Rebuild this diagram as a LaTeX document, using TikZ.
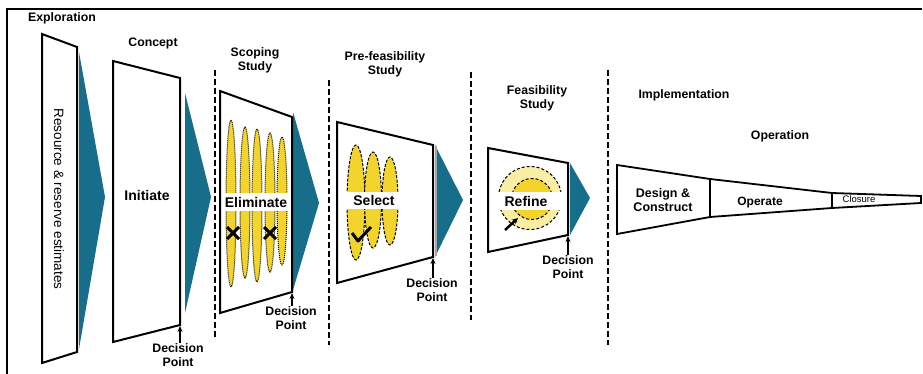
\documentclass[tikz,border=0pt]{standalone}
\usepackage{fontspec}
\setmainfont{Liberation Sans}
\usetikzlibrary{arrows.meta}
\definecolor{tealw}{RGB}{22,110,138}
\definecolor{yel}{RGB}{242,212,45}
\definecolor{paleyel}{RGB}{250,238,165}
\begin{document}
\begin{tikzpicture}[x=1pt,y=-1pt,
  stagebox/.style={draw=black,line width=2pt,line join=miter},
  wedge/.style={fill=tealw},
  lab/.style={font=\bfseries\fontsize{12.3}{14}\selectfont, align=center, inner sep=0},
  mainlab/.style={font=\bfseries\fontsize{14}{15}\selectfont, inner sep=0, align=center},
  sepline/.style={line width=1.3pt, dash pattern=on 6pt off 3pt},
  decarrow/.style={-{Stealth[length=6pt,width=5pt]}, line width=1.2pt},
  dotell/.style={fill=yel, draw=black, line width=1pt, densely dotted},
  dashell/.style={fill=yel, draw=black, line width=1pt, dash pattern=on 3pt off 1.5pt},
  crossmark/.style={line width=3pt},
  band/.style={fill=white}]
\useasboundingbox (0,0) rectangle (923,374);
\fill[white] (0,0) rectangle (923,374);
% frame
\draw[line width=2pt] (7,374) -- (7,9) -- (922,9);

% separators
\coordinate (s1a) at (215,70);  \coordinate (s1b) at (215,338);
\coordinate (s2a) at (329,80);  \coordinate (s2b) at (329,345);
\coordinate (s3a) at (471,72);  \coordinate (s3b) at (471,320);
\coordinate (s4a) at (608,70);  \coordinate (s4b) at (608,345);
\draw[sepline] (s1a) -- (s1b);
\draw[sepline] (s2a) -- (s2b);
\draw[sepline] (s3a) -- (s3b);
\draw[sepline] (s4a) -- (s4b);

% ---------- Exploration
\fill[wedge] (79,52) -- (105,197) -- (79,349) -- cycle;
\draw[stagebox,fill=white] (42,34) -- (77,47) -- (77,352) -- (42,363) -- cycle;
\node[lab] (lexp) at (62,18) {Exploration};
\node[rotate=-90, font=\fontsize{13.5}{15}\selectfont, inner sep=0] (tres) at (59,199) {Resource \& reserve estimates};

% ---------- Concept
\fill[wedge] (185,93) -- (211,197) -- (185,313) -- cycle;
\draw[stagebox,fill=white] (113,61) -- (180,78) -- (180,325) -- (113,342) -- cycle;
\node[lab] (lcon) at (153,43) {Concept};
\node[mainlab] (tini) at (147,195) {Initiate};
\coordinate (dp1) at (180,326);
\node[lab, anchor=north] (dl1) at (178,343) {Decision\\Point};
\draw[decarrow] (dl1.north -| dp1) -- (dp1);

% ---------- Scoping study
\fill[wedge] (293,112) -- (319,203) -- (293,290) -- cycle;
\fill[white] (220,91) -- (292,117) -- (292,292) -- (220,313) -- cycle;
\draw[dotell] (231,203.5) ellipse [x radius=5, y radius=83.5];
\draw[dotell] (245,202.5) ellipse [x radius=5, y radius=75.5];
\draw[dotell] (257,205.5) ellipse [x radius=5, y radius=76.5];
\draw[dotell] (270,202.5) ellipse [x radius=5, y radius=69.5];
\draw[dotell] (282,201) ellipse [x radius=5, y radius=64];
\fill[band] (221,193) rectangle (291,211);
\node[mainlab] (telim) at (256,202) {Eliminate};
\draw[crossmark] (227,227) -- (239,239) (227,239) -- (239,227);
\draw[crossmark] (264,227) -- (276,239) (264,239) -- (276,227);
\draw[stagebox] (220,91) -- (292,117) -- (292,292) -- (220,313) -- cycle;
\node[lab] (lsco) at (255,60) {Scoping\\Study};
\coordinate (dp2) at (292,293);
\node[lab, anchor=north] (dl2) at (291,306) {Decision\\Point};
\draw[decarrow] (dl2.north -| dp2) -- (dp2);

% ---------- Pre-feasibility study
\fill[wedge] (435,145) -- (463,200) -- (435,257) -- cycle;
\fill[white] (337,122) -- (433,145) -- (433,257) -- (337,283) -- cycle;
\draw[dashell] (356,202.5) ellipse [x radius=9, y radius=57.5];
\draw[dashell] (373,200) ellipse [x radius=8.5, y radius=48];
\draw[dashell] (390,201) ellipse [x radius=8, y radius=44];
\fill[band] (338,192) rectangle (432,209);
\node[mainlab] (tsel) at (374,200.5) {Select};
\draw[line width=3pt, line join=round] (352,233) -- (358,241) -- (371,227);
\draw[stagebox] (337,122) -- (433,145) -- (433,257) -- (337,283) -- cycle;
\draw[gray!70, line width=2pt] (435.5,146) -- (435.5,256);
\node[lab] (lpre) at (385,64) {Pre-feasibility\\Study};
\coordinate (dp3) at (433,258);
\node[lab, anchor=north] (dl3) at (432,278) {Decision\\Point};
\draw[decarrow] (dl3.north -| dp3) -- (dp3);

% ---------- Feasibility study
\fill[wedge] (570,163) -- (590,198) -- (570,235) -- cycle;
\fill[white] (488,148) -- (568,163) -- (568,235) -- (488,252) -- cycle;
\draw[fill=paleyel, draw=black, line width=1pt, dash pattern=on 3pt off 2pt] (530,198) circle [radius=31.5];
\draw[fill=yel, draw=black, line width=1pt, dash pattern=on 3pt off 2pt] (532,199) circle [radius=20.5];
\fill[band] (489,192) rectangle (567,210);
\node[mainlab] (tref) at (526,201) {Refine};
\draw[-{Stealth[length=6pt,width=6pt]}, line width=2.5pt] (505,230) -- (518,218);
\draw[stagebox] (488,148) -- (568,163) -- (568,235) -- (488,252) -- cycle;
\node[lab] (lfea) at (537,98) {Feasibility\\Study};
\coordinate (dp4) at (568,236);
\node[lab, anchor=north] (dl4) at (568,255) {Decision\\Point};
\draw[decarrow] (dl4.north -| dp4) -- (dp4);

% ---------- Implementation / Operation
\node[lab] (limp) at (684,95) {Implementation};
\node[lab] (lope) at (780,136) {Operation};
\draw[stagebox, line width=1.8pt] (617,165) -- (710,179) -- (832,193) -- (921,196) -- (921,203) -- (832,208) -- (710,217) -- (617,234) -- cycle;
\draw[line width=2.5pt] (617,165) -- (617,234);
\draw[line width=1.8pt] (710,179) -- (710,217);
\draw[line width=2.5pt] (832,193) -- (832,208);
\node[font=\bfseries\fontsize{12.5}{14}\selectfont, align=center, inner sep=0] (tdes) at (663,200) {Design \&\\Construct};
\node[font=\bfseries\fontsize{12}{14}\selectfont, inner sep=0] (topr) at (760,203) {Operate};
\node[font=\fontsize{9.5}{10}\selectfont, inner sep=0] (tclo) at (859,199.5) {Closure};
\end{tikzpicture}
\end{document}
